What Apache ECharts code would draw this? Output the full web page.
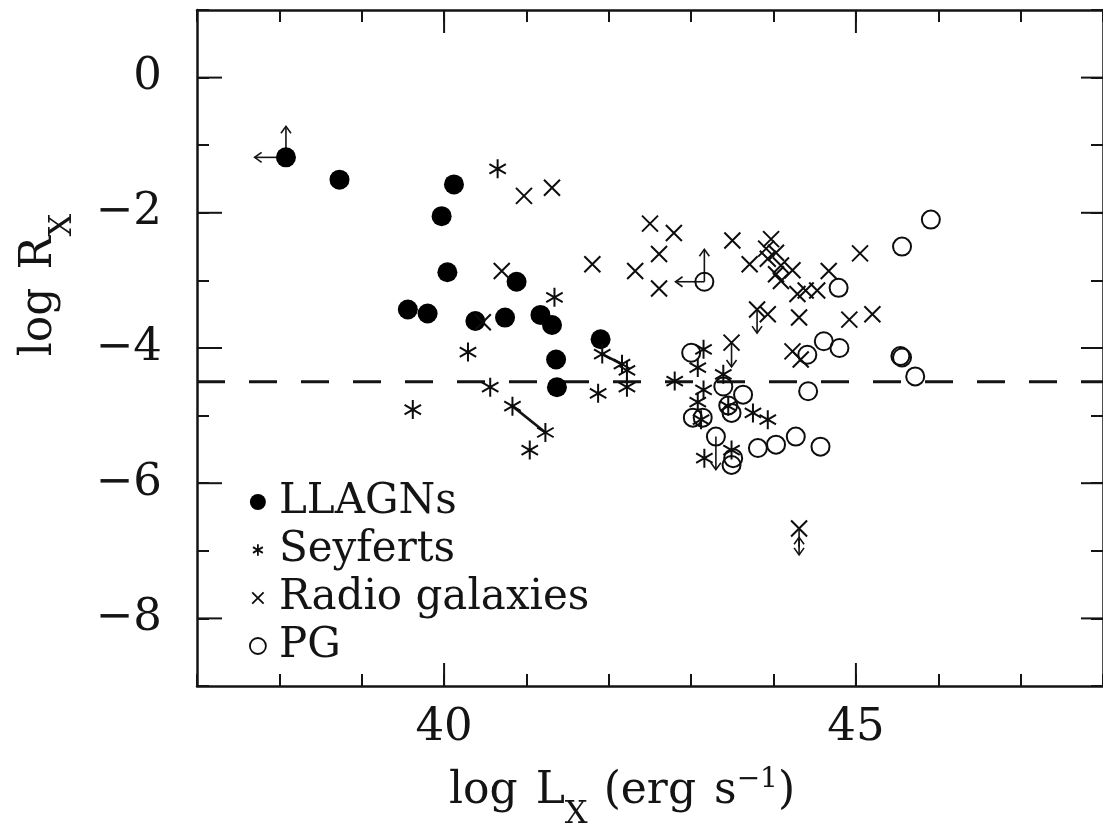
<!DOCTYPE html>
<html>
<head>
<meta charset="utf-8">
<script src="https://cdn.jsdelivr.net/npm/echarts@6/dist/echarts.min.js"></script>
<style>
  html, body { margin: 0; padding: 0; background: #fff; }
  #chart { width: 1103px; height: 834px; }
</style>
</head>
<body>
<div id="chart"></div>
<script>
// log L_X (erg/s) vs log R_X for four AGN classes
const llagnPoints = [
  [38.08, -1.18], [38.73, -1.51], [40.12, -1.58], [39.97, -2.05], [40.04, -2.88],
  [40.88, -3.02], [39.56, -3.43], [39.80, -3.49], [40.38, -3.60], [40.74, -3.55],
  [41.17, -3.51], [41.31, -3.66], [41.90, -3.87], [41.36, -4.17], [41.37, -4.58]
];
const seyfertPoints = [
  [40.65, -1.35], [41.34, -3.25], [40.29, -4.06], [39.62, -4.91], [40.56, -4.58],
  [40.83, -4.86], [41.23, -5.25], [41.04, -5.51], [41.92, -4.09], [42.16, -4.24],
  [42.22, -4.33], [41.87, -4.67], [42.22, -4.58], [42.80, -4.49], [43.15, -4.02],
  [43.08, -4.29], [43.39, -4.39], [43.15, -4.62], [43.08, -4.80], [43.12, -5.06],
  [43.45, -4.86], [43.75, -4.96], [43.93, -5.06], [43.49, -5.51], [43.16, -5.63]
];
const radioGalaxyPoints = [
  [40.97, -1.75], [41.31, -1.63], [40.70, -2.86], [40.47, -3.62], [41.80, -2.76],
  [42.32, -2.86], [42.50, -2.16], [42.79, -2.30], [42.61, -2.61], [42.61, -3.12],
  [43.50, -2.41], [43.97, -2.39], [43.91, -2.53], [44.03, -2.59], [43.71, -2.76],
  [43.93, -2.68], [44.09, -2.78], [44.23, -2.85], [44.03, -2.91], [44.09, -3.01],
  [44.29, -3.20], [44.39, -3.15], [44.53, -3.15], [44.67, -2.86], [45.05, -2.60],
  [43.80, -3.43], [43.93, -3.50], [44.31, -3.55], [44.92, -3.58], [45.20, -3.50],
  [43.49, -3.92], [44.23, -4.05], [44.33, -4.17], [44.31, -6.67]
];
const pgPoints = [
  [43.16, -3.02], [43.00, -4.07], [43.39, -4.57], [43.63, -4.69], [43.45, -4.85],
  [43.49, -4.96], [43.02, -5.03], [43.14, -5.03], [43.30, -5.31], [43.51, -5.63],
  [43.49, -5.73], [43.81, -5.48], [44.03, -5.43], [44.27, -5.31], [44.57, -5.46],
  [44.42, -4.64], [44.41, -4.10], [44.61, -3.90], [44.80, -4.00], [44.79, -3.11],
  [45.54, -4.12], [45.56, -4.14], [45.72, -4.42], [45.56, -2.50], [45.91, -2.10]
];
// limits: [from logL, from logR, to logL, to logR]
const limitArrows = [
  [38.08, -1.18, 37.70, -1.18], [38.08, -1.18, 38.08, -0.72],
  [43.16, -3.02, 42.81, -3.02], [43.16, -3.02, 43.16, -2.54],
  [43.80, -3.43, 43.80, -3.78], [43.49, -3.92, 43.49, -4.28],
  [44.31, -6.67, 44.31, -7.06], [44.31, -6.95, 44.31, -6.80],
  [43.30, -5.31, 43.30, -5.80]
];
// paired measurements of the same source
const pairLinks = [
  [40.83, -4.86, 41.23, -5.25], [41.92, -4.09, 42.16, -4.24]
];
const radioLoudBoundary = -4.5;

const xMin = 37, xMax = 48;
const yMin = -9, yMax = 1;
const xLabelValues = [40, 45];
const yLabelValues = [0, -2, -4, -6, -8];

const seriesNames = ['LLAGNs', 'Seyferts', 'Radio galaxies', 'PG'];

const FONT = '"DejaVu Serif", "Liberation Serif", serif';
const INK = '#141414';
const ASTERISK = 'path://M5,0L5,10M0.67,2.5L9.33,7.5M0.67,7.5L9.33,2.5';
const CROSS = 'path://M0,0L10,10M10,0L0,10';
const ASTERISK_KEY = 'path://M-2,-2M12,12M5,0L5,10M0.67,2.5L9.33,7.5M0.67,7.5L9.33,2.5';
const CROSS_KEY = 'path://M-2,-2M12,12M0,0L10,10M10,0L0,10';

function minusLabel(v) {
  return v < 0 ? '\u2212' + Math.abs(v) : String(v);
}

const axisLineStyle = { color: INK, width: 2.5 };
const tickLineStyle = { color: INK, width: 2 };

// value axis carrying the frame line and a short tick at every integer
function frameAxis(position, labelValues) {
  const isX = position === 'bottom' || position === 'top';
  const axis = {
    type: 'value',
    position: position,
    min: isX ? xMin : yMin,
    max: isX ? xMax : yMax,
    interval: 1,
    splitLine: { show: false },
    axisLine: { show: true, onZero: false, lineStyle: axisLineStyle },
    axisTick: { show: true, inside: true, length: 12, lineStyle: tickLineStyle },
    axisLabel: { show: false }
  };
  if (labelValues) {
    axis.axisLabel = {
      show: true,
      customValues: labelValues,
      formatter: minusLabel,
      fontFamily: FONT,
      fontSize: 45,
      color: INK,
      margin: isX ? 20 : 35
    };
  }
  return axis;
}

// longer ticks at the labelled values, on all four sides of the frame
const majorTickMarks = xLabelValues.map(function (v) { return [v, yMin, 0]; })
  .concat(yLabelValues.map(function (v) { return [xMin, v, 1]; }));

function renderMajorTick(params, api) {
  const cs = params.coordSys;
  const p = api.coord([api.value(0), api.value(1)]);
  const style = { stroke: INK, lineWidth: 2 };
  let lines;
  if (api.value(2) === 0) {
    const top = cs.y, bottom = cs.y + cs.height;
    lines = [[p[0], bottom, p[0], bottom - 23], [p[0], top, p[0], top + 23]];
  } else {
    const left = cs.x, right = cs.x + cs.width;
    lines = [[left, p[1], left + 25, p[1]], [right, p[1], right - 22, p[1]]];
  }
  return {
    type: 'group',
    children: lines.map(function (l) {
      return { type: 'line', shape: { x1: l[0], y1: l[1], x2: l[2], y2: l[3] }, style: style };
    })
  };
}

function renderSegment(withHead, width) {
  return function (params, api) {
    const a = api.coord([api.value(0), api.value(1)]);
    const b = api.coord([api.value(2), api.value(3)]);
    const children = [{
      type: 'line',
      shape: { x1: a[0], y1: a[1], x2: b[0], y2: b[1] },
      style: { stroke: INK, lineWidth: width }
    }];
    if (withHead) {
      const dx = b[0] - a[0], dy = b[1] - a[1];
      const len = Math.hypot(dx, dy) || 1;
      const ux = dx / len, uy = dy / len;
      const h = 7, s = 5;
      const l = [b[0] - ux * h - uy * s, b[1] - uy * h + ux * s];
      const r = [b[0] - ux * h + uy * s, b[1] - uy * h - ux * s];
      children.push({
        type: 'polyline',
        shape: { points: [l, b, r] },
        style: { stroke: INK, lineWidth: width, fill: null }
      });
    }
    return { type: 'group', children: children };
  };
}

const openMarker = {
  color: 'rgba(0,0,0,0)',
  borderColor: '#0d0d0d',
  borderWidth: 2,
  opacity: 1
};

const titleRich = {
  m: { fontFamily: FONT, fontSize: 44, fill: INK },
  sub: { fontFamily: FONT, fontSize: 32, fill: INK, padding: [46, 0, 0, 0] },
  subgap: { fontFamily: FONT, fontSize: 32, fill: INK, padding: [46, 16, 0, 0] },
  mgap: { fontFamily: FONT, fontSize: 44, fill: INK, padding: [0, 18, 0, 0] },
  sup: { fontFamily: FONT, fontSize: 28, fill: INK, padding: [0, 0, 24, 0] }
};

const option = {
  animation: false,
  backgroundColor: '#ffffff',
  textStyle: { fontFamily: FONT },
  grid: { left: 197, top: 10, right: -4, bottom: 148, containLabel: false },
  xAxis: [frameAxis('bottom', xLabelValues), frameAxis('top')],
  yAxis: [frameAxis('left', yLabelValues), frameAxis('right')],
  legend: {
    orient: 'vertical',
    left: 249,
    top: 478,
    padding: 0,
    itemGap: 0,
    itemWidth: 16,
    itemHeight: 16,
    selectedMode: false,
    textStyle: {
      fontFamily: FONT,
      fontSize: 42,
      lineHeight: 48,
      color: INK,
      padding: [0, 0, 0, 8]
    },
    itemStyle: { borderWidth: 1.8, opacity: 1 },
    data: [
      { name: 'LLAGNs', icon: 'circle' },
      { name: 'Seyferts', icon: ASTERISK_KEY },
      { name: 'Radio galaxies', icon: CROSS_KEY },
      { name: 'PG', icon: 'circle' }
    ]
  },
  graphic: [
    {
      type: 'text',
      x: 622,
      y: 792,
      style: {
        text: '{mgap|log}{m|L}{subgap|X}{mgap|(erg}{m|s}{sup|\u22121}{m|)}',
        align: 'center',
        verticalAlign: 'middle',
        rich: titleRich
      }
    },
    {
      type: 'text',
      x: 40,
      y: 285,
      rotation: Math.PI / 2,
      style: {
        text: '{mgap|log}{m|R}{sub|X}',
        align: 'center',
        verticalAlign: 'middle',
        rich: titleRich
      }
    }
  ],
  series: [
    {
      name: 'frame ticks',
      type: 'custom',
      data: majorTickMarks,
      encode: { x: 0, y: 1 },
      renderItem: renderMajorTick,
      clip: false,
      silent: true,
      z: 5
    },
    {
      name: 'radio-loud boundary',
      type: 'line',
      data: [[xMin, radioLoudBoundary], [xMax, radioLoudBoundary]],
      symbol: 'none',
      silent: true,
      z: 1,
      lineStyle: { color: INK, width: 3, type: [28, 24] }
    },
    {
      name: 'limits',
      type: 'custom',
      data: limitArrows,
      encode: { x: [0, 2], y: [1, 3] },
      renderItem: renderSegment(true, 1.6),
      silent: true,
      z: 2
    },
    {
      name: 'pairs',
      type: 'custom',
      data: pairLinks,
      encode: { x: [0, 2], y: [1, 3] },
      renderItem: renderSegment(false, 2.6),
      silent: true,
      z: 2
    },
    {
      name: seriesNames[0],
      type: 'scatter',
      data: llagnPoints,
      symbol: 'circle',
      symbolSize: 20,
      z: 3,
      itemStyle: { color: '#000000', opacity: 1 }
    },
    {
      name: seriesNames[1],
      type: 'scatter',
      data: seyfertPoints,
      symbol: ASTERISK,
      symbolKeepAspect: true,
      symbolSize: 19,
      z: 3,
      itemStyle: openMarker
    },
    {
      name: seriesNames[2],
      type: 'scatter',
      data: radioGalaxyPoints,
      symbol: CROSS,
      symbolKeepAspect: true,
      symbolSize: 16,
      z: 3,
      itemStyle: openMarker
    },
    {
      name: seriesNames[3],
      type: 'scatter',
      data: pgPoints,
      symbol: 'circle',
      symbolSize: 18,
      z: 3,
      itemStyle: openMarker
    }
  ]
};

const chart = echarts.init(document.getElementById('chart'), null, { renderer: 'canvas' });
chart.setOption(option);
</script>
</body>
</html>
